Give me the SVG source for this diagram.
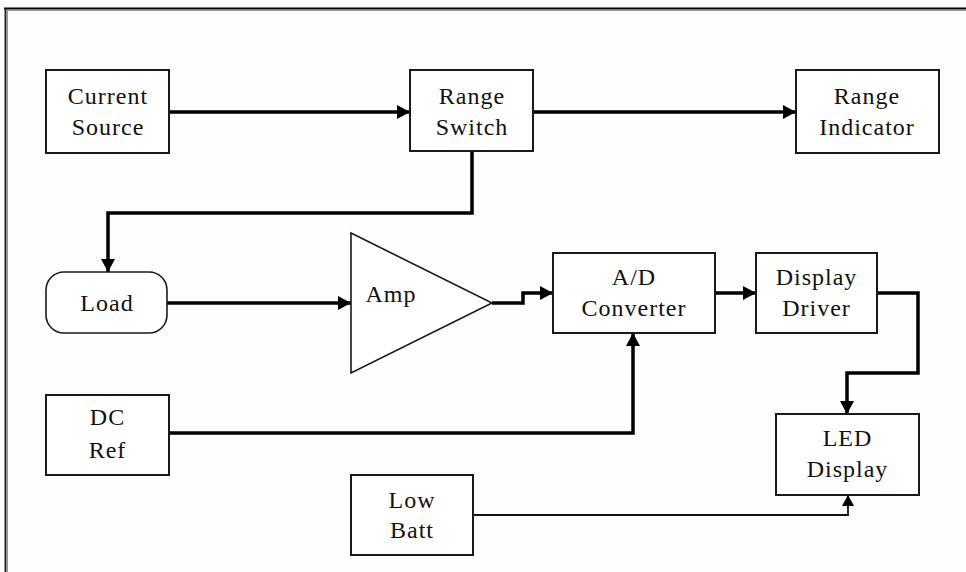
<svg xmlns="http://www.w3.org/2000/svg" width="966" height="572" viewBox="0 0 966 572">
<style>
.box{fill:#fff;stroke:#1a1a1a;stroke-width:2}
.shape{fill:#fff;stroke:#1a1a1a;stroke-width:1.6}
.lbl{font-family:"Liberation Serif","Times New Roman",serif;font-size:24px;letter-spacing:1px;fill:#111;text-anchor:middle}
.wire{fill:none;stroke:#000;stroke-width:3.5;stroke-linejoin:miter}
.thin{fill:none;stroke:#111;stroke-width:1.8}
</style>
<defs>
<marker id="ah" markerUnits="userSpaceOnUse" markerWidth="14" markerHeight="14" refX="13" refY="7" orient="auto">
<path d="M0,0 L13,7 L0,14 z" fill="#000"/>
</marker>
<marker id="ahs" markerUnits="userSpaceOnUse" markerWidth="12" markerHeight="12" refX="11" refY="6" orient="auto">
<path d="M0,0 L11,6 L0,12 z" fill="#000"/>
</marker>
</defs>
<rect x="0" y="0" width="966" height="572" fill="#fdfdfd"/>
<g id="frame">
<line x1="4" y1="8.5" x2="966" y2="8.5" stroke="#000" stroke-width="2"/>
<line x1="7" y1="10.5" x2="966" y2="10.5" stroke="#999" stroke-width="1"/>
<line x1="5.5" y1="8" x2="5.5" y2="572" stroke="#222" stroke-width="2"/>
<line x1="7.5" y1="10" x2="7.5" y2="572" stroke="#999" stroke-width="1"/>
</g>
<g id="connectors">
<line class="wire" x1="169" y1="112" x2="410" y2="112" marker-end="url(#ah)"/>
<line class="wire" x1="533" y1="112" x2="796" y2="112" marker-end="url(#ah)"/>
<polyline class="wire" points="472,151 472,213 108,213 108,272" marker-end="url(#ah)"/>
<line class="wire" x1="167" y1="303" x2="351" y2="303" marker-end="url(#ah)"/>
<polyline class="wire" points="492,303 523,303 523,293 553,293" marker-end="url(#ah)"/>
<line class="wire" x1="715" y1="293" x2="756" y2="293" marker-end="url(#ah)"/>
<polyline class="wire" points="877,293 918,293 918,373 847,373 847,414" marker-end="url(#ah)"/>
<polyline class="wire" points="169,433 633,433 633,333" marker-end="url(#ah)"/>
<polyline class="thin" points="473,515 848,515 848,495" marker-end="url(#ahs)"/>
</g>
<g id="current-source">
<rect class="box" x="46" y="70" width="123" height="83"/>
<text class="lbl" x="108" y="104">Current</text>
<text class="lbl" x="108" y="135">Source</text>
</g>
<g id="range-switch">
<rect class="box" x="410" y="70" width="123" height="81"/>
<text class="lbl" x="472" y="104">Range</text>
<text class="lbl" x="472" y="135">Switch</text>
</g>
<g id="range-indicator">
<rect class="box" x="796" y="70" width="143" height="83"/>
<text class="lbl" x="867" y="104">Range</text>
<text class="lbl" x="867" y="135">Indicator</text>
</g>
<g id="load">
<rect class="shape" x="46" y="272" width="121" height="61" rx="18" ry="18"/>
<text class="lbl" x="107" y="311">Load</text>
</g>
<g id="amp">
<polygon class="shape" points="351,233 492,303 351,373"/>
<text class="lbl" x="391" y="302">Amp</text>
</g>
<g id="ad-converter">
<rect class="box" x="553" y="253" width="162" height="80"/>
<text class="lbl" x="634" y="285">A/D</text>
<text class="lbl" x="634" y="316">Converter</text>
</g>
<g id="display-driver">
<rect class="box" x="756" y="253" width="121" height="80"/>
<text class="lbl" x="816.5" y="285">Display</text>
<text class="lbl" x="816.5" y="316">Driver</text>
</g>
<g id="led-display">
<rect class="box" x="776" y="414" width="143" height="81"/>
<text class="lbl" x="847.5" y="446">LED</text>
<text class="lbl" x="847.5" y="477">Display</text>
</g>
<g id="dc-ref">
<rect class="box" x="46" y="395" width="123" height="80"/>
<text class="lbl" x="107.5" y="425">DC</text>
<text class="lbl" x="107.5" y="458">Ref</text>
</g>
<g id="low-batt">
<rect class="box" x="351" y="475" width="122" height="80"/>
<text class="lbl" x="412" y="508">Low</text>
<text class="lbl" x="412" y="538">Batt</text>
</g>
</svg>
